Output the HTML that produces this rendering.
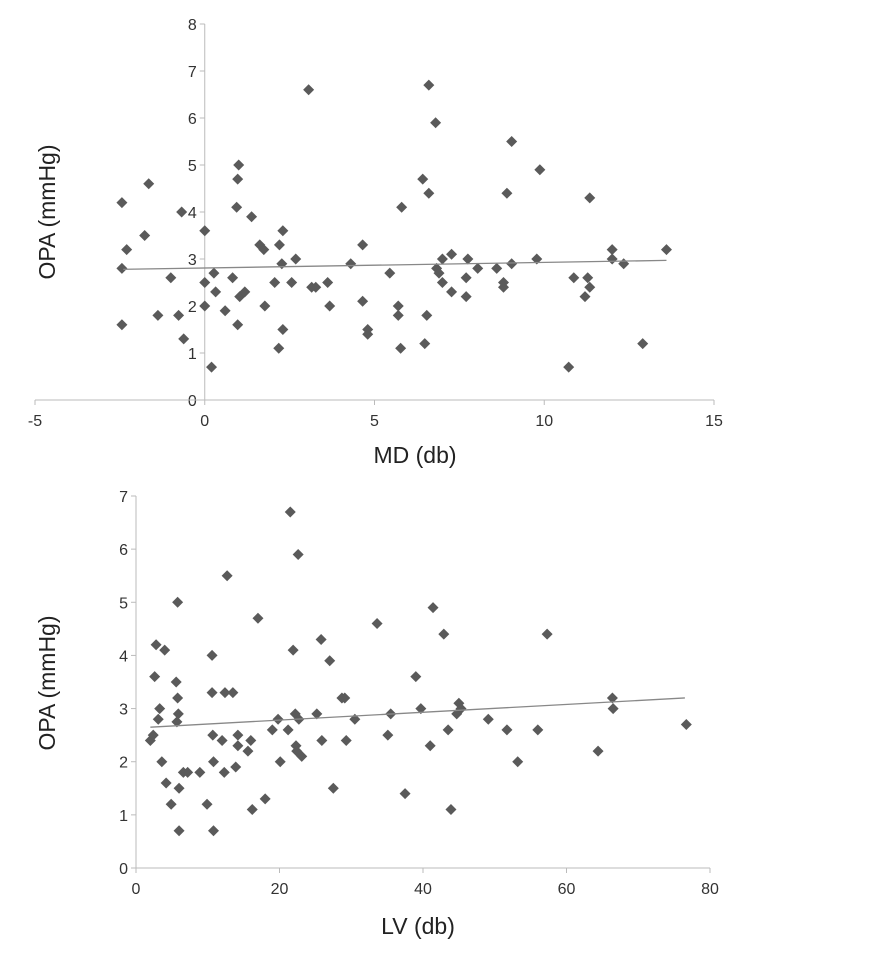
<!DOCTYPE html>
<html><head><meta charset="utf-8"><style>
body{margin:0;background:#fff;}
svg{display:block;font-family:"Liberation Sans",Arial,sans-serif;}
</style></head><body>
<svg id="chart" width="892" height="963"></svg>
<script>
const mdX=[-2.44,-2.3,-2.44,-2.44,-1.65,-1.77,-1.38,-1.0,-0.77,-0.62,-0.68,0,0,0,0.2,0.27,0.32,0.6,0.82,0.94,0.97,1.0,0.97,1.03,1.18,1.38,1.62,1.74,1.77,2.06,2.2,2.3,2.27,2.18,2.3,2.56,2.68,3.06,3.15,3.27,3.62,3.68,4.3,4.65,4.65,4.8,4.8,5.45,5.7,5.7,5.77,5.8,6.42,6.6,6.54,6.48,6.6,6.8,6.83,6.9,7.0,7.0,7.27,7.27,7.7,7.75,7.7,8.04,8.6,8.8,8.8,8.9,9.04,9.04,9.78,9.87,10.72,10.87,11.2,11.28,11.34,11.34,12.0,12.0,12.34,12.9,13.6];
const mdY=[4.2,3.2,2.8,1.6,4.6,3.5,1.8,2.6,1.8,1.3,4.0,3.6,2.5,2.0,0.7,2.7,2.3,1.9,2.6,4.1,4.7,5.0,1.6,2.2,2.3,3.9,3.3,3.2,2.0,2.5,3.3,3.6,2.9,1.1,1.5,2.5,3.0,6.6,2.4,2.4,2.5,2.0,2.9,3.3,2.1,1.5,1.4,2.7,2.0,1.8,1.1,4.1,4.7,4.4,1.8,1.2,6.7,5.9,2.8,2.7,3.0,2.5,3.1,2.3,2.6,3.0,2.2,2.8,2.8,2.5,2.4,4.4,5.5,2.9,3.0,4.9,0.7,2.6,2.2,2.6,2.4,4.3,3.2,3.0,2.9,1.2,3.2];
const mdTrend=[[-2.4,2.78],[13.6,2.97]];
const mdXTicks=[-5,0,5,10,15];
const mdYTicks=[0,1,2,3,4,5,6,7,8];

const lvX=[2.8,2.6,3.3,3.1,2.0,2.4,4.0,3.6,4.2,4.9,5.6,5.8,5.9,5.7,5.8,6.0,6.0,6.6,7.2,8.9,9.9,10.6,10.6,10.7,10.8,10.8,12.0,12.3,12.4,12.7,13.5,13.9,14.2,14.2,15.6,16.0,16.2,17.0,18.0,19.0,19.8,20.1,21.2,21.5,21.9,22.2,22.3,22.4,22.6,22.7,23.1,25.2,25.8,25.9,27.0,27.5,28.7,29.1,29.3,30.5,33.6,35.1,35.5,37.5,39.0,39.7,41.0,41.4,42.9,43.5,43.9,44.7,45.0,45.3,49.1,51.7,53.2,56.0,57.3,64.4,66.4,66.5,76.7];
const lvY=[4.2,3.6,3.0,2.8,2.4,2.5,4.1,2.0,1.6,1.2,3.5,3.2,2.9,2.75,5.0,0.7,1.5,1.8,1.8,1.8,1.2,4.0,3.3,2.5,2.0,0.7,2.4,1.8,3.3,5.5,3.3,1.9,2.3,2.5,2.2,2.4,1.1,4.7,1.3,2.6,2.8,2.0,2.6,6.7,4.1,2.9,2.3,2.2,5.9,2.8,2.1,2.9,4.3,2.4,3.9,1.5,3.2,3.2,2.4,2.8,4.6,2.5,2.9,1.4,3.6,3.0,2.3,4.9,4.4,2.6,1.1,2.9,3.1,3.0,2.8,2.6,2.0,2.6,4.4,2.2,3.2,3.0,2.7];
const lvTrend=[[2,2.65],[76.5,3.2]];
const lvXTicks=[0,20,40,60,80];
const lvYTicks=[0,1,2,3,4,5,6,7];

const NS="http://www.w3.org/2000/svg";
const svg=document.getElementById('chart');
function mk(tag,attrs,parent){const e=document.createElementNS(NS,tag);for(const k in attrs)e.setAttribute(k,attrs[k]);(parent||svg).appendChild(e);return e;}

function drawChart(cfg){
  const g=mk('g',{});
  
  
  const sx=v=>cfg.x0+(v-cfg.xmin)/(cfg.xmax-cfg.xmin)*(cfg.x1-cfg.x0);
  const sy=v=>cfg.y0-(v-cfg.ymin)/(cfg.ymax-cfg.ymin)*(cfg.y0-cfg.y1);
  const ax=sx(0);
  // y axis
  const ya=mk('line',{x1:ax,y1:sy(cfg.ymax),x2:ax,y2:cfg.y0,stroke:'#bbb','stroke-width':1},g);
  
  
  cfg.yt.forEach(t=>{
    mk('line',{x1:ax-5,y1:sy(t),x2:ax,y2:sy(t),stroke:'#bbb'},g);
    const tx=mk('text',{x:ax-8,y:sy(t)+6,'text-anchor':'end','font-size':16,fill:'#333'},g);
    tx.textContent=t;
    
    
  });
  const xa=mk('line',{x1:cfg.x0,y1:cfg.y0,x2:cfg.x1,y2:cfg.y0,stroke:'#bbb'},g);
  
  
  cfg.xt.forEach(t=>{
    mk('line',{x1:sx(t),y1:cfg.y0,x2:sx(t),y2:cfg.y0+5,stroke:'#bbb'},g);
    const tx=mk('text',{x:sx(t),y:cfg.y0+26,'text-anchor':'middle','font-size':16,fill:'#333'},g);
    tx.textContent=t;
    
    
  });
  cfg.xs.forEach((v,i)=>{
    const px=sx(v),py=sy(cfg.ys[i]);
    const p=mk('polygon',{points:`${px},${py-5.5} ${px+5.5},${py} ${px},${py+5.5} ${px-5.5},${py}`,fill:'#5a5a5a'},g);
    
    
  });
  const tl=mk('line',{x1:sx(cfg.tr[0][0]),y1:sy(cfg.tr[0][1]),x2:sx(cfg.tr[1][0]),y2:sy(cfg.tr[1][1]),stroke:'#888','stroke-width':1.3},g);
  
  
  const xtl=mk('text',{x:cfg.xtx,y:cfg.xty,'text-anchor':'middle','font-size':23,fill:'#222'},g);
  xtl.textContent=cfg.xtitle;
  
  
  const ytl=mk('text',{x:0,y:0,'text-anchor':'middle','font-size':23,fill:'#222',transform:`translate(${cfg.ytx},${cfg.yty}) rotate(-90)`},g);
  ytl.textContent='OPA (mmHg)';
  
  
}
drawChart({name:'md-chart',xs:mdX,ys:mdY,tr:mdTrend,xt:mdXTicks,yt:mdYTicks,xmin:-5,xmax:15,ymin:0,ymax:8,x0:35,x1:714,y0:400,y1:24,xtitle:'MD (db)',xtx:415,xty:463,ytx:55,yty:212});
drawChart({name:'lv-chart',xs:lvX,ys:lvY,tr:lvTrend,xt:lvXTicks,yt:lvYTicks,xmin:0,xmax:80,ymin:0,ymax:7,x0:136,x1:710,y0:868,y1:496,xtitle:'LV (db)',xtx:418,xty:934,ytx:55,yty:683});
</script>
</body></html>
